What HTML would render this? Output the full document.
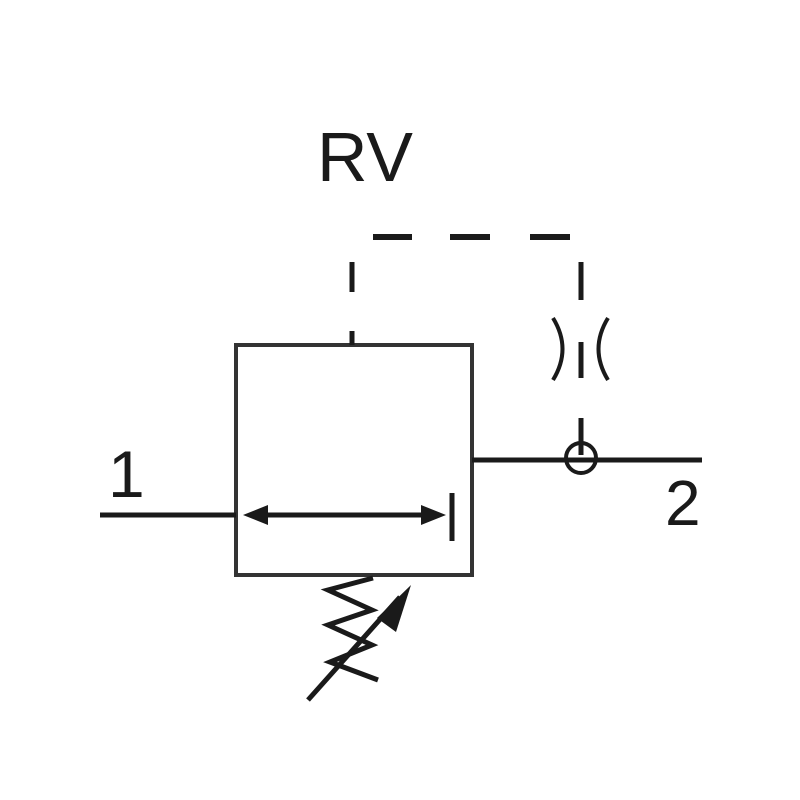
<!DOCTYPE html>
<html><head><style>body{margin:0;background:#fff}svg{display:block}</style></head>
<body>
<svg width="800" height="800" viewBox="0 0 800 800" xmlns="http://www.w3.org/2000/svg">
<g stroke="#1a1a1a" stroke-width="4" fill="none">
<rect x="236" y="345" width="236" height="230" stroke="#333"/>
<line x1="100" y1="515" x2="236" y2="515" stroke-width="5"/>
<line x1="250" y1="515" x2="440" y2="515" stroke-width="5"/>
<line x1="452" y1="493" x2="452" y2="541" stroke-width="5"/>
<line x1="472" y1="460" x2="702" y2="460" stroke-width="5"/>
<line x1="352" y1="262" x2="352" y2="292" stroke-width="5"/>
<line x1="352" y1="331" x2="352" y2="345" stroke-width="5"/>
<line x1="373" y1="237" x2="412" y2="237" stroke-width="6"/>
<line x1="450" y1="237" x2="490" y2="237" stroke-width="6"/>
<line x1="530" y1="237" x2="570" y2="237" stroke-width="6"/>
<line x1="581" y1="262" x2="581" y2="300" stroke-width="5"/>
<line x1="581" y1="342" x2="581" y2="378" stroke-width="5"/>
<line x1="581" y1="418" x2="581" y2="455" stroke-width="5"/>
<path d="M553 318 Q572 349 553 380" stroke-width="4"/>
<path d="M608 318 Q589 349 608 380" stroke-width="4"/>
<circle cx="581" cy="458" r="15" stroke-width="4"/>
<path d="M373 578 L328 590 L372 610 L328 625 L372 645 L330 662 L378 680" stroke-width="5"/>
<line x1="308" y1="700" x2="400" y2="597" stroke-width="5"/>
</g>
<polygon points="243,515 268,505 268,525" fill="#1a1a1a"/>
<polygon points="446,515 421,505 421,525" fill="#1a1a1a"/>
<polygon points="411,585 377,618 396,632" fill="#1a1a1a"/>
<g font-family="Liberation Sans, sans-serif" fill="#1a1a1a">
<text x="317" y="181" font-size="70">RV</text>
<text x="108" y="497" font-size="66">1</text>
<text x="665" y="525" font-size="64">2</text>
</g>
</svg>
</body></html>
